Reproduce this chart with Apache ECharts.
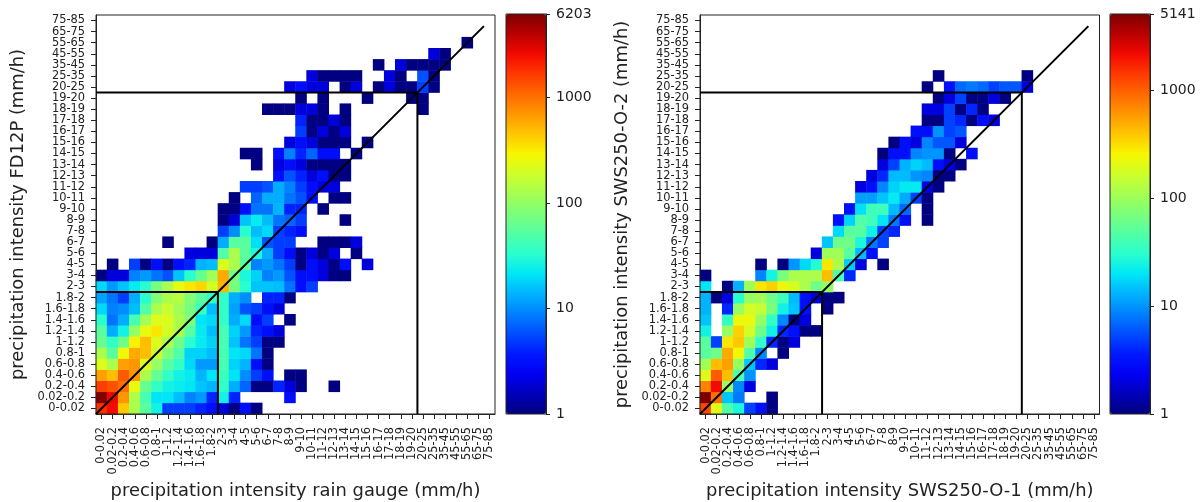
<!DOCTYPE html>
<html><head><meta charset="utf-8">
<style>html,body{margin:0;padding:0;background:#fff}#c{width:1204px;height:502px}</style>
<script src="https://cdn.jsdelivr.net/npm/echarts@6/dist/echarts.min.js"></script>
</head><body><div id="c"></div>
<script>
const categories = ['0-0.02','0.02-0.2','0.2-0.4','0.4-0.6','0.6-0.8','0.8-1','1-1.2','1.2-1.4','1.4-1.6','1.6-1.8','1.8-2','2-3','3-4','4-5','5-6','6-7','7-8','8-9','9-10','10-11','11-12','12-13','13-14','14-15','15-16','16-17','17-18','18-19','19-20','20-25','25-35','35-45','45-55','55-65','65-75','75-85'];

// counts per cell: outer index = y category (from bottom), inner index = x category; 0 = empty
const fd12pCounts = [
 [1800,2570,444,130,55,26,5,5,5,4,3,2,1,3,1],
 [6203,2800,705,130,45,21,21,15,9,11,4,26,4,0,0,0,0,3],
 [1610,1340,1020,245,62,36,26,24,21,16,14,36,13,7,1,1,4,2,1,0,0,1],
 [645,489,1230,705,130,62,36,26,23,14,21,40,21,10,5,3,0,1,1],
 [219,130,645,705,219,104,55,36,19,11,11,45,18,14,3,1],
 [130,55,272,585,489,180,85,50,18,18,15,45,21,19,8,1],
 [62,36,69,306,489,219,130,69,33,23,18,45,16,8,5,1,1],
 [55,13,26,104,245,335,197,130,55,23,15,45,18,11,4,3,2],
 [33,8,13,45,117,219,219,130,85,21,19,36,13,19,3,5,0,1],
 [19,9,10,15,50,130,175,117,76,40,15,36,12,6,5,3,2],
 [12,8,5,13,33,85,130,144,85,55,36,36,13,10,0,4,4,1],
 [19,11,16,23,33,76,130,245,335,386,197,534,76,33,16,16,15,8,3,5],
 [1,2,2,9,11,8,6,16,33,62,117,585,69,29,18,9,11,6,3,3,2,1,1],
 [0,1,0,5,1,3,1,3,4,14,15,219,130,55,9,11,8,5,1,3,2,1,3,0,2],
 [0,0,0,0,0,0,0,0,2,2,2,50,130,55,29,13,5,3,1,2,1,2,0,1],
 [0,0,0,0,0,0,1,0,0,0,1,13,55,55,20,6,5,5,0,0,1,1,1,2],
 [0,0,0,0,0,0,0,0,0,0,0,5,10,33,15,19,5,4,3],
 [0,0,0,0,0,0,0,0,0,0,0,1,2,16,23,15,8,7,5,0,0,0,1],
 [0,0,0,0,0,0,0,0,0,0,0,1,1,3,8,8,14,4,4,0,1],
 [0,0,0,0,0,0,0,0,0,0,0,0,1,0,7,13,13,8,6,3,0,1,1],
 [0,0,0,0,0,0,0,0,0,0,0,0,0,5,5,6,13,9,5,3,2,2],
 [0,0,0,0,0,0,0,0,0,0,0,0,0,0,0,0,3,6,4,2,3,1,1],
 [0,0,0,0,0,0,0,0,0,0,0,0,0,0,1,0,2,3,2,1,1,1,1],
 [0,0,0,0,0,0,0,0,0,0,0,0,0,1,1,0,3,9,4,7,3,3,0,1],
 [0,0,0,0,0,0,0,0,0,0,0,0,0,0,0,0,0,2,3,2,1,1,1,0,1],
 [0,0,0,0,0,0,0,0,0,0,0,0,0,0,0,0,0,0,5,1,2,1,2],
 [0,0,0,0,0,0,0,0,0,0,0,0,0,0,0,0,0,0,4,1,1,2,1],
 [0,0,0,0,0,0,0,0,0,0,0,0,0,0,0,1,1,1,2,2,1,0,1,0,0,0,0,0,0,1],
 [0,0,0,0,0,0,0,0,0,0,0,0,0,0,0,0,0,0,1,0,1,0,0,0,1,0,0,0,1,1],
 [0,0,0,0,0,0,0,0,0,0,0,0,0,0,0,0,0,2,3,2,2,0,1,2,0,1,2,1,1,5,1],
 [0,0,0,0,0,0,0,0,0,0,0,0,0,0,0,0,0,0,0,2,1,1,1,1,0,0,2,1,0,6,1],
 [0,0,0,0,0,0,0,0,0,0,0,0,0,0,0,0,0,0,0,0,0,0,0,0,0,1,0,2,1,1,1,1],
 [0,0,0,0,0,0,0,0,0,0,0,0,0,0,0,0,0,0,0,0,0,0,0,0,0,0,0,0,0,0,2,1],
 [0,0,0,0,0,0,0,0,0,0,0,0,0,0,0,0,0,0,0,0,0,0,0,0,0,0,0,0,0,0,0,0,0,1]
];
const sws250Counts = [
 [1270,200,46,27,5,3,1],
 [5141,880,15,8,0,0,1],
 [735,2170,94,9,2],
 [200,1060,429,41,10],
 [105,429,562,94,15,4,2],
 [50,63,510,240,46,9,0,1],
 [50,5,295,390,105,33,4,1,2],
 [24,0,94,358,175,63,24,4,3,1,1],
 [15,0,33,225,225,94,33,9,1,2],
 [13,0,4,94,175,150,70,24,15,3,0,1],
 [13,1,2,30,94,105,63,38,14,3,2,1,1],
 [20,0,1,13,105,295,358,230,175,117,63,94],
 [1,0,0,0,0,9,25,70,117,117,117,429,41,4],
 [0,0,0,0,0,1,0,1,10,18,29,295,117,16,2,0,1],
 [0,0,0,0,0,0,0,0,0,0,2,105,105,50,14,3],
 [0,0,0,0,0,0,0,0,0,0,0,15,63,63,27,8,5],
 [0,0,0,0,0,0,0,0,0,0,0,0,18,50,50,24,5,4],
 [0,0,0,0,0,0,0,0,0,0,0,0,3,17,46,38,20,8,3,0,1],
 [0,0,0,0,0,0,0,0,0,0,0,0,0,3,19,38,38,14,7,0,1],
 [0,0,0,0,0,0,0,0,0,0,0,0,0,0,11,11,15,21,12,5,1],
 [0,0,0,0,0,0,0,0,0,0,0,0,0,0,2,3,9,17,21,21,2,1],
 [0,0,0,0,0,0,0,0,0,0,0,0,0,0,0,2,4,14,14,10,9,1,1],
 [0,0,0,0,0,0,0,0,0,0,0,0,0,0,0,0,2,5,13,17,14,3,2,1],
 [0,0,0,0,0,0,0,0,0,0,0,0,0,0,0,0,1,3,3,9,10,10,1,0,3],
 [0,0,0,0,0,0,0,0,0,0,0,0,0,0,0,0,0,1,3,2,9,6,6,2],
 [0,0,0,0,0,0,0,0,0,0,0,0,0,0,0,0,0,0,0,3,3,10,5,6],
 [0,0,0,0,0,0,0,0,0,0,0,0,0,0,0,0,0,0,0,0,1,1,5,4,1,3,2],
 [0,0,0,0,0,0,0,0,0,0,0,0,0,0,0,0,0,0,0,0,2,2,5,1,4,1],
 [0,0,0,0,0,0,0,0,0,0,0,0,0,0,0,0,0,0,0,0,0,1,2,5,1,1,2,1],
 [0,0,0,0,0,0,0,0,0,0,0,0,0,0,0,0,0,0,0,0,1,0,3,7,8,7,5,6,6,2],
 [0,0,0,0,0,0,0,0,0,0,0,0,0,0,0,0,0,0,0,0,0,1,0,0,0,0,0,0,0,1]
];
const colorTicksLeft = [1,10,100,1000,6203];
const colorTicksRight = [1,10,100,1000,5141];
const jetStops = ['#000080','#0000ba','#0000f4','#0019ff','#004dff','#0080ff','#00b3ff','#00e6f7','#29ffce','#52ffa5','#7bff7b','#a5ff52','#ceff29','#f7f600','#ffc600','#ff9700','#ff6800','#ff3900','#f30900','#b90000','#800000'];
const lowerEdgeCategory = '2-3';
const upperEdgeCategory = '20-25';

const FONT = 'DejaVu Sans', INK = '#222';
const GRIDS = [
  {left:96, top:15, width:399, height:399},
  {left:506, top:14, width:40, height:400},
  {left:700, top:15, width:399.5, height:399},
  {left:1110, top:14, width:40, height:400}
];
const cells = m => { const out=[]; m.forEach((row,y)=>row.forEach((v,x)=>{ if(v>0) out.push([x,y,v,Math.log10(v)]); })); return out; };
const lo = categories.indexOf(lowerEdgeCategory)-0.5, hi = categories.indexOf(upperEdgeCategory)-0.5;
const first = -0.5, last = categories.length-0.5, diagEnd = categories.length-1.5;

function catAxis(grid, name, isX, gap){
  return {type:'category', gridIndex:grid, data:categories, boundaryGap:true,
    name, nameLocation:'middle', nameGap:gap,
    nameTextStyle:{fontFamily:FONT,fontSize:17.9,color:INK},
    axisLine:{show:true,onZero:false,lineStyle:{color:INK,width:1}},
    axisTick:{show:true,alignWithLabel:true,length:5,lineStyle:{color:INK,width:1}},
    axisLabel:{interval:0,rotate:isX?90:0,margin:isX?13:11,padding:isX?0:[3,0,0,0],fontFamily:FONT,fontSize:11.4,color:INK,hideOverlap:false},
    splitLine:{show:false}};
}
const hiddenVal = (grid,min,max) => ({type:'value',gridIndex:grid,min,max,show:false,splitLine:{show:false}});
function barAxis(grid, ticks){
  const vals = ticks.map(Math.log10);
  return {type:'value',gridIndex:grid,position:'right',min:0,max:vals[vals.length-1],
    axisLine:{show:true,onZero:false,lineStyle:{color:INK,width:1}},
    axisTick:{show:true,length:4,customValues:vals,lineStyle:{color:INK,width:1}},
    axisLabel:{customValues:vals,margin:10,padding:[3,0,0,0],fontFamily:FONT,fontSize:14,color:INK,showMinLabel:true,showMaxLabel:true,
      formatter:v=>String(Math.round(Math.pow(10,v)))},
    splitLine:{show:false}, z:10};
}
function guide(xIdx,yIdx,points){
  return {type:'line',xAxisIndex:xIdx,yAxisIndex:yIdx,data:points,showSymbol:false,symbol:'none',silent:true,z:5,clip:true,
    lineStyle:{color:'#000',width:2,cap:'butt'}};
}
function guides(xIdx,yIdx){
  return [
    guide(xIdx,yIdx,[[first,first],[diagEnd,diagEnd]]),
    guide(xIdx,yIdx,[[first,lo],[lo,lo],[lo,first]]),
    guide(xIdx,yIdx,[[first,hi],[hi,hi],[hi,first]])
  ];
}
function colorMap(seriesIndex, ticks, left){
  return {type:'continuous',seriesIndex,dimension:3,min:0,max:Math.log10(ticks[ticks.length-1]),
    calculable:false,realtime:false,show:true,hoverLink:false,orient:'vertical',
    left,top:14,itemWidth:40,itemHeight:400,padding:0,text:null,
    inRange:{color:jetStops},outOfRange:{color:'rgba(0,0,0,0)'},textStyle:{color:'rgba(0,0,0,0)'},showLabel:false,z:1};
}
const option = {
  animation:false, backgroundColor:'#fff',
  grid:GRIDS.map(g=>({...g,show:true,borderColor:INK,borderWidth:1,backgroundColor:'transparent',containLabel:false,outerBoundsMode:'none',z:3})),
  xAxis:[
    catAxis(0,'precipitation intensity rain gauge (mm/h)',true,66),
    hiddenVal(0,first,last),
    catAxis(2,'precipitation intensity SWS250-O-1 (mm/h)',true,66),
    hiddenVal(2,first,last),
    {type:'value',gridIndex:1,show:false,min:0,max:1},
    {type:'value',gridIndex:3,show:false,min:0,max:1}
  ],
  yAxis:[
    catAxis(0,'precipitation intensity FD12P (mm/h)',false,69),
    hiddenVal(0,first,last),
    catAxis(2,'precipitation intensity SWS250-O-2 (mm/h)',false,69),
    hiddenVal(2,first,last),
    barAxis(1,colorTicksLeft),
    barAxis(3,colorTicksRight)
  ],
  visualMap:[colorMap(0,colorTicksLeft,506),colorMap(1,colorTicksRight,1110)],
  series:[
    {type:'heatmap',xAxisIndex:0,yAxisIndex:0,data:cells(fd12pCounts),silent:true,z:2},
    {type:'heatmap',xAxisIndex:2,yAxisIndex:2,data:cells(sws250Counts),silent:true,z:2},
    ...guides(1,1),
    ...guides(3,3),
    {type:'line',xAxisIndex:4,yAxisIndex:4,data:[],silent:true},
    {type:'line',xAxisIndex:5,yAxisIndex:5,data:[],silent:true}
  ]
};
echarts.init(document.getElementById('c'),null,{renderer:'canvas'}).setOption(option);
</script></body></html>
